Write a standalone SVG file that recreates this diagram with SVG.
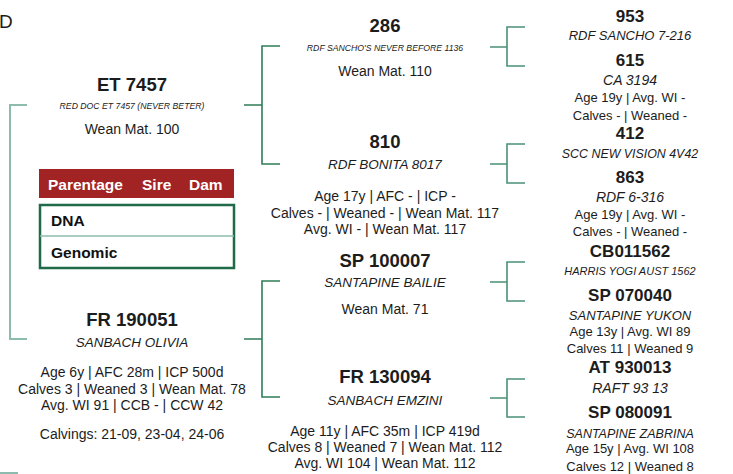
<svg xmlns="http://www.w3.org/2000/svg" width="733" height="474" viewBox="0 0 733 474">
<style>
text{font-family:"Liberation Sans",Arial,sans-serif;fill:#1c1c1c;text-anchor:middle}
.id{font-weight:bold;font-size:18.5px}
.idr{font-weight:bold;font-size:17px}
.nm{font-style:italic;font-size:13.5px}
.nmr{font-style:italic;font-size:13px}
.sm{font-style:italic;font-size:8.7px}
.st{font-size:14px}
.str{font-size:13px}
.c1{fill:none;stroke:#8dbcae;stroke-width:2}
.c2{fill:none;stroke:#2f7d58;stroke-width:1.6}
.c3{fill:none;stroke:#4a9176;stroke-width:1.6}
.th{fill:#fff;font-weight:bold;font-size:15.5px;text-anchor:start}
.td{fill:#111;font-weight:bold;font-size:15.5px;text-anchor:start}
</style>
<text x="-1" y="28" style="font-size:19px;text-anchor:start">D</text>
<g id="connectors">
<path class="c1" d="M27 105H10V339H27"/>
<path class="c1" d="M0 473H18"/>
<path class="c2" d="M244 105H262M280 46H262V164H280"/>
<path class="c2" d="M244 339H262M280 281H262V397H280"/>
<path class="c3" d="M490 47H507M525 27H507V66H525"/>
<path class="c3" d="M490 164H507M525 144H507V183H525"/>
<path class="c3" d="M490 282H507M525 262H507V301H525"/>
<path class="c3" d="M490 398H507M525 379H507V417H525"/>
</g>
<g id="legend">
<rect x="39" y="169" width="195" height="29" fill="#a12323"/>
<text class="th" x="48" y="190">Parentage</text>
<text class="th" x="142" y="190">Sire</text>
<text class="th" x="189" y="190">Dam</text>
<rect x="40" y="205" width="194" height="63" fill="#fff" stroke="#1f6a48" stroke-width="2.5"/>
<line x1="40" y1="236" x2="234" y2="236" stroke="#8dbcae" stroke-width="1.5"/>
<text class="td" x="51" y="226">DNA</text>
<text class="td" x="51" y="258">Genomic</text>
</g>
<g id="sire">
<text class="id" x="132" y="91">ET 7457</text>
<text class="sm" x="132" y="109">RED DOC ET 7457 (NEVER BETER)</text>
<text class="st" x="132" y="134">Wean Mat. 100</text>
</g>
<g id="dam">
<text class="id" x="132" y="326">FR 190051</text>
<text class="nm" x="132" y="347">SANBACH OLIVIA</text>
<text class="st" x="132" y="377">Age 6y | AFC 28m | ICP 500d</text>
<text class="st" x="132" y="394">Calves 3 | Weaned 3 | Wean Mat. 78</text>
<text class="st" x="132" y="410">Avg. WI 91 | CCB - | CCW 42</text>
<text class="st" x="132" y="439">Calvings: 21-09, 23-04, 24-06</text>
</g>
<g id="ss">
<text class="id" x="385" y="32">286</text>
<text class="sm" x="385" y="51">RDF SANCHO'S NEVER BEFORE 1136</text>
<text class="st" x="385" y="76">Wean Mat. 110</text>
</g>
<g id="sd">
<text class="id" x="385" y="148">810</text>
<text class="nm" x="385" y="169">RDF BONITA 8017</text>
<text class="st" x="385" y="201">Age 17y | AFC - | ICP -</text>
<text class="st" x="385" y="218">Calves - | Weaned - | Wean Mat. 117</text>
<text class="st" x="385" y="234">Avg. WI - | Wean Mat. 117</text>
</g>
<g id="ds">
<text class="id" x="385" y="267">SP 100007</text>
<text class="nm" x="385" y="287">SANTAPINE BAILIE</text>
<text class="st" x="385" y="314">Wean Mat. 71</text>
</g>
<g id="dd">
<text class="id" x="385" y="383">FR 130094</text>
<text class="nm" x="385" y="405">SANBACH EMZINI</text>
<text class="st" x="385" y="436">Age 11y | AFC 35m | ICP 419d</text>
<text class="st" x="385" y="452">Calves 8 | Weaned 7 | Wean Mat. 112</text>
<text class="st" x="385" y="468">Avg. WI 104 | Wean Mat. 112</text>
</g>
<g id="sss">
<text class="idr" x="630" y="22">953</text>
<text class="nmr" x="630" y="40">RDF SANCHO 7-216</text>
</g>
<g id="ssd">
<text class="idr" x="630" y="66">615</text>
<text class="nmr" x="630" y="85" style="font-size:14px">CA 3194</text>
<text class="str" x="630" y="102">Age 19y | Avg. WI -</text>
<text class="str" x="630" y="120">Calves - | Weaned -</text>
</g>
<g id="sds">
<text class="idr" x="630" y="139">412</text>
<text class="nmr" x="630" y="158" style="font-size:12.4px">SCC NEW VISION 4V42</text>
</g>
<g id="sdd">
<text class="idr" x="630" y="183">863</text>
<text class="nmr" x="630" y="202" style="font-size:14px">RDF 6-316</text>
<text class="str" x="630" y="219">Age 19y | Avg. WI -</text>
<text class="str" x="630" y="236">Calves - | Weaned -</text>
</g>
<g id="dss">
<text class="idr" x="630" y="257">CB011562</text>
<text class="nmr" x="630" y="275" style="font-size:11px">HARRIS YOGI AUST 1562</text>
</g>
<g id="dsd">
<text class="idr" x="630" y="301">SP 070040</text>
<text class="nmr" x="630" y="320">SANTAPINE YUKON</text>
<text class="str" x="630" y="336">Age 13y | Avg. WI 89</text>
<text class="str" x="630" y="353">Calves 11 | Weaned 9</text>
</g>
<g id="dds">
<text class="idr" x="630" y="373">AT 930013</text>
<text class="nmr" x="630" y="393" style="font-size:14px">RAFT 93 13</text>
</g>
<g id="ddd">
<text class="idr" x="630" y="418">SP 080091</text>
<text class="nmr" x="630" y="438" style="font-size:12.5px">SANTAPINE ZABRINA</text>
<text class="str" x="630" y="453">Age 15y | Avg. WI 108</text>
<text class="str" x="630" y="471">Calves 12 | Weaned 8</text>
</g>
</svg>
